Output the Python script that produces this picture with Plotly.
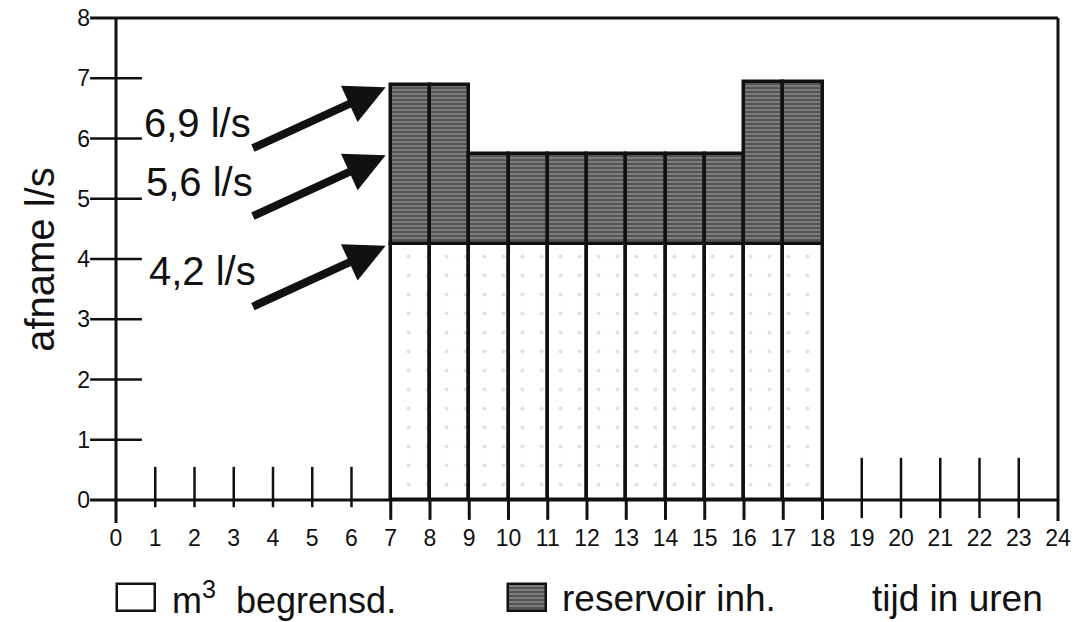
import plotly.graph_objects as go

# ---- data ----
hours_start = [7, 8, 9, 10, 11, 12, 13, 14, 15, 16, 17]
limited = [4.25] * 11                      # m3 begrensd. (dotted part)
total = [6.88, 6.88, 5.75, 5.75, 5.75, 5.75, 5.75, 5.75, 5.75, 6.93, 6.93]
reservoir = [t - l for t, l in zip(total, limited)]   # reservoir inh. (hatched part)

x_ticks = list(range(0, 25))
x_ticklabels = [str(v) for v in x_ticks]
y_ticks = list(range(0, 9))
y_ticklabels = [str(v) for v in y_ticks]

label_texts = ["6,9 l/s", "5,6 l/s", "4,2 l/s"]
label_levels = [6.88, 5.75, 4.25]
label_pos = [(0.66, 6.26), (0.72, 5.27), (0.8, 3.8)]

# ---- geometry (figure fills the whole page; body margin removed) ----
W, H = 1085, 622
X0PX, XSCALE = 116, 39.25
Y0PX, YSCALE = 500, 60.25
xr = [-X0PX / XSCALE, (W - X0PX) / XSCALE]
yr = [(Y0PX - H) / YSCALE, Y0PX / YSCALE]

FONT = "Liberation Sans, Arial, Helvetica, sans-serif"
BLACK = "#111111"
HATCH = dict(shape="-", fgcolor="#e2e2e2", bgcolor="#555555", size=4, solidity=0.28)

centers = [h + 0.5 for h in hours_start]

fig = go.Figure()
fig.add_trace(go.Bar(
    x=centers, y=limited, width=1,
    marker=dict(color="white", line=dict(color=BLACK, width=3.5),
                pattern=dict(shape=".", fgcolor="#c4c4c4", bgcolor="white", size=19, solidity=0.035)),
    name="m3 begrensd.", showlegend=False, hoverinfo="skip"))
fig.add_trace(go.Bar(
    x=centers, y=reservoir, base=limited, width=1,
    marker=dict(color="#555555", line=dict(color=BLACK, width=3.5), pattern=HATCH),
    name="reservoir inh.", showlegend=False, hoverinfo="skip"))

# legend swatches
fig.add_trace(go.Bar(
    x=[0.51], y=[0.45], base=[-1.85], width=0.97,
    marker=dict(color="white", line=dict(color=BLACK, width=2.5)),
    showlegend=False, hoverinfo="skip"))
fig.add_trace(go.Bar(
    x=[10.47], y=[0.45], base=[-1.85], width=0.97,
    marker=dict(color="#555555", line=dict(color=BLACK, width=2.5), pattern=HATCH),
    showlegend=False, hoverinfo="skip"))

shapes = []
def line(x0, y0, x1, y1, w=3):
    shapes.append(dict(type="line", xref="x", yref="y", x0=x0, y0=y0, x1=x1, y1=y1,
                       line=dict(color=BLACK, width=w), layer="above"))

# frame / axes
line(0, -0.38, 0, 8)
line(-0.66, 8, 24, 8)
line(24, 8, 24, -0.35)
line(-0.66, 0, 24, 0)
# y ticks crossing the axis
for v in y_ticks[1:8]:
    line(-0.66, v, 0.66, v, 2.5)
# x ticks
for v in x_ticks:
    if 1 <= v <= 6:
        line(v, 0.55, v, -0.12, 2.5)
    elif 19 <= v <= 23:
        line(v, 0.7, v, -0.3, 2.5)
    elif 7 <= v <= 18:
        line(v, 0, v, -0.33, 3)

annotations = []
for (lx, ly), txt, lvl in zip(label_pos, label_texts, label_levels):
    annotations.append(dict(x=lx, y=ly, xref="x", yref="y", text=txt, showarrow=False,
                            xanchor="left", yanchor="middle",
                            font=dict(family=FONT, size=40, color=BLACK)))
    annotations.append(dict(x=hours_start[0] - 0.13, y=lvl - 0.03, xref="x", yref="y",
                            ax=hours_start[0] - 3.55, ay=lvl - 1.05, axref="x", ayref="y",
                            text="", showarrow=True, arrowhead=2, arrowsize=1.0,
                            arrowwidth=8, arrowcolor=BLACK, standoff=0))

annotations.append(dict(x=-1.94, y=4.0, xref="x", yref="y", text="afname l/s", textangle=-90,
                        showarrow=False, font=dict(family=FONT, size=40, color=BLACK)))
annotations.append(dict(x=1.38, y=-1.63, xref="x", yref="y", text="m<sup>3</sup>  begrensd.",
                        showarrow=False, xanchor="left", yanchor="middle",
                        font=dict(family=FONT, size=36, color=BLACK)))
annotations.append(dict(x=11.31, y=-1.63, xref="x", yref="y", text="reservoir inh.",
                        showarrow=False, xanchor="left", yanchor="middle",
                        font=dict(family=FONT, size=37, color=BLACK)))
annotations.append(dict(x=19.2, y=-1.63, xref="x", yref="y", text="tijd in uren",
                        showarrow=False, xanchor="left", yanchor="middle",
                        font=dict(family=FONT, size=37, color=BLACK)))

fig.update_layout(
    width=W, height=H, margin=dict(l=0, r=0, t=0, b=0),
    paper_bgcolor="white", plot_bgcolor="white",
    barmode="overlay", bargap=0,
    shapes=shapes, annotations=annotations,
    xaxis=dict(range=xr, tickvals=x_ticks, ticktext=x_ticklabels, showgrid=False, zeroline=False,
               showline=False, ticks="", anchor="free", position=(H - Y0PX) / H, side="bottom",
               ticklabelstandoff=22, ticklabeloverflow="allow", automargin=False, fixedrange=True,
               tickfont=dict(family=FONT, size=23, color=BLACK)),
    yaxis=dict(range=yr, tickvals=y_ticks, ticktext=y_ticklabels, showgrid=False, zeroline=False,
               showline=False, ticks="", anchor="free", position=X0PX / W, side="left",
               ticklabelstandoff=26, ticklabeloverflow="allow", automargin=False, fixedrange=True,
               tickfont=dict(family=FONT, size=23, color=BLACK)),
)

fig.write_html("out.html", config={"displayModeBar": False},
               post_script="document.body.style.margin='0';document.body.style.overflow='hidden';")
